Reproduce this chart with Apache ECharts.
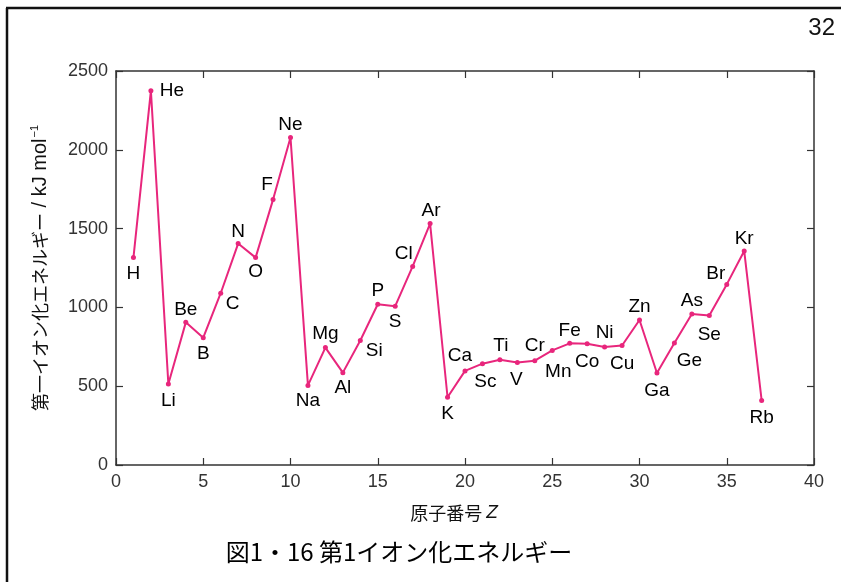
<!DOCTYPE html>
<html>
<head>
<meta charset="utf-8">
<script src="https://cdn.jsdelivr.net/npm/echarts@6/dist/echarts.min.js"></script>
<style>
html,body{margin:0;padding:0;background:#fff;}
#c{width:841px;height:582px;}
</style>
</head>
<body>
<div id="c"></div>
<script>
// Data
const atomicNumbers = [1,2,3,4,5,6,7,8,9,10,11,12,13,14,15,16,17,18,19,20,21,22,23,24,25,26,27,28,29,30,31,32,33,34,35,36,37];
const elementSymbols = ['H','He','Li','Be','B','C','N','O','F','Ne','Na','Mg','Al','Si','P','S','Cl','Ar','K','Ca','Sc','Ti','V','Cr','Mn','Fe','Co','Ni','Cu','Zn','Ga','Ge','As','Se','Br','Kr','Rb'];
const ionizationEnergy = [1316,2375,514,905,808,1090,1405,1316,1684,2078,505,745,586,790,1020,1008,1260,1532,430,597,643,668,650,662,727,772,770,749,758,920,584,774,958,948,1146,1358,410];
const xTicks = {min:0, max:40, step:5};
const yTicks = {min:0, max:2500, step:500};

// label placement (offset of label centre from the point, px)
const labelOffsets = {
  H:[0,16], He:[21,0], Li:[0,17], Be:[0,-13], B:[0,16], C:[12,11], N:[0,-12], O:[0,14], F:[-6,-15], Ne:[0,-13],
  Na:[0,15], Mg:[0,-14], Al:[0,15], Si:[14,10], P:[0,-13], S:[0,16], Cl:[-9,-13], Ar:[1,-13], K:[0,17],
  Ca:[-5,-15], Sc:[3,18], Ti:[1,-14], V:[-1,17], Cr:[0,-15], Mn:[6,21], Fe:[0,-13], Co:[0,18], Ni:[0,-14],
  Cu:[0,18], Zn:[0,-13], Ga:[0,18], Ge:[15,18], As:[0,-13], Se:[0,19], Br:[-11,-11], Kr:[0,-12], Rb:[0,17]
};

const pink = '#e8267c';
const axisColor = '#333';
const latin = '"Liberation Sans", Arial, sans-serif';
const cjk = '"Noto Sans CJK JP", sans-serif';

const seriesData = atomicNumbers.map((z, i) => ({
  value: [z, ionizationEnergy[i]],
  name: elementSymbols[i],
  label: { offset: labelOffsets[elementSymbols[i]] || [0, -13] }
}));

function makeX(pos, showLabel) {
  return {
    type: 'value', position: pos, min: xTicks.min, max: xTicks.max, interval: xTicks.step,
    axisLine: { show: true, onZero: false, lineStyle: { color: axisColor, width: 1.5 } },
    axisTick: { show: true, inside: true, length: 7, lineStyle: { color: axisColor, width: 1.2 } },
    axisLabel: { show: showLabel, fontSize: 18, color: axisColor, fontFamily: latin, margin: 8, formatter: v => String(v) },
    splitLine: { show: false }
  };
}
function makeY(pos, showLabel) {
  return {
    type: 'value', position: pos, min: yTicks.min, max: yTicks.max, interval: yTicks.step,
    axisLine: { show: true, onZero: false, lineStyle: { color: axisColor, width: 1.5 } },
    axisTick: { show: true, inside: true, length: 7, lineStyle: { color: axisColor, width: 1.2 } },
    axisLabel: { show: showLabel, fontSize: 18, color: axisColor, fontFamily: latin, margin: 8, formatter: v => String(v) },
    splitLine: { show: false }
  };
}

const yMain = makeY('left', true);
yMain.name = '{a|第一イオン化エネルギー}{b| / kJ mol}{s|−1}';
yMain.nameLocation = 'middle';
yMain.nameGap = 64;
yMain.nameTextStyle = {
  color: '#111',
  rich: {
    a: { fontSize: 18, fontFamily: cjk, color: '#111' },
    b: { fontSize: 20, fontFamily: latin, color: '#111' },
    s: { fontSize: 11, fontFamily: latin, color: '#111', padding: [0, 0, 12, 1] }
  }
};

const chart = echarts.init(document.getElementById('c'), null, { renderer: 'canvas' });
chart.setOption({
  backgroundColor: '#fff',
  animation: false,
  grid: { left: 116, right: 27, top: 71, bottom: 117, containLabel: false },
  xAxis: [makeX('bottom', true), makeX('top', false)],
  yAxis: [yMain, makeY('right', false)],
  series: [{
    type: 'line',
    xAxisIndex: 0, yAxisIndex: 0,
    data: seriesData,
    symbol: 'circle', symbolSize: 5,
    lineStyle: { color: pink, width: 2 },
    itemStyle: { color: pink },
    label: {
      show: true, position: 'inside', formatter: '{b}',
      color: '#000', fontSize: 19, fontFamily: latin,
      align: 'center', verticalAlign: 'middle'
    },
    z: 3
  }],
  graphic: [
    { type: 'line', shape: { x1: 6, y1: 8, x2: 841, y2: 8 }, style: { stroke: '#111', lineWidth: 2.5 } },
    { type: 'line', shape: { x1: 7, y1: 8, x2: 7, y2: 582 }, style: { stroke: '#111', lineWidth: 2.5 } },
    { type: 'text', x: 835, y: 28, style: { text: '32', fontSize: 24, fontFamily: latin, fill: '#111', textAlign: 'right', textVerticalAlign: 'middle' } },
    { type: 'text', x: 454, y: 513, style: {
        text: '{a|原子番号 }{z|Z}', textAlign: 'center', textVerticalAlign: 'middle',
        rich: { a: { fontSize: 18, fontFamily: cjk, fill: '#111', color: '#111' }, z: { fontSize: 19, fontStyle: 'italic', fontFamily: latin, fill: '#111', color: '#111' } } } },
    { type: 'text', x: 399, y: 552, style: { text: '図1・16 第1イオン化エネルギー', fontSize: 24, fontFamily: cjk, fill: '#000', textAlign: 'center', textVerticalAlign: 'middle' } }
  ]
});
</script>
</body>
</html>
